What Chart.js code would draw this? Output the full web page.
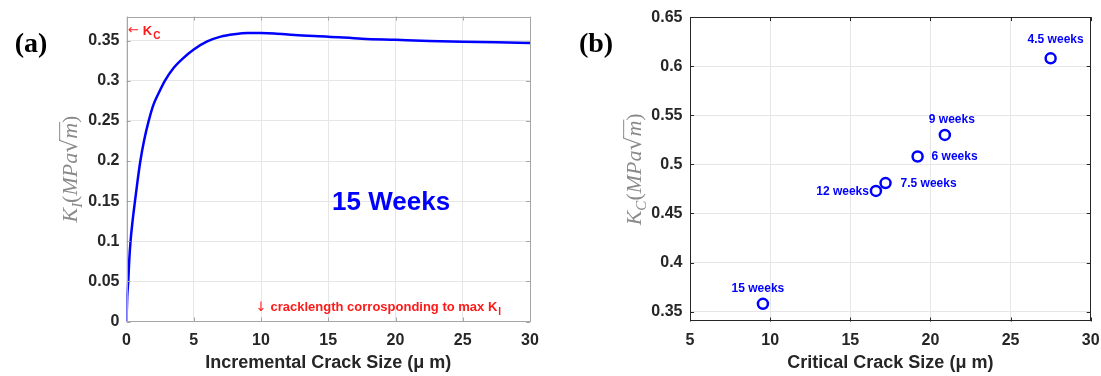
<!DOCTYPE html>
<html>
<head>
<meta charset="utf-8">
<script src="https://cdn.jsdelivr.net/npm/chart.js@4.4.1/dist/chart.umd.min.js"></script>
<style>
html, body { margin: 0; padding: 0; background: #fff; }
#wrap { position: relative; width: 1101px; height: 376px; overflow: hidden; }
.panel { position: absolute; top: 0; height: 376px; }
#pa { left: 0; width: 560px; }
#pb { left: 560px; width: 560px; }
</style>
</head>
<body>
<div id="wrap">
    <div class="panel" id="pa"><canvas id="chartA"></canvas></div>
    <div class="panel" id="pb"><canvas id="chartB"></canvas></div>
</div>
<script>
// (a) K_I against incremental crack size, 15 weeks
const crackSize = [0, 0.05, 0.13, 0.2, 0.3, 0.45, 0.63, 0.82, 1.03, 1.3, 1.65, 2.0, 2.4, 2.85, 3.5, 4.2, 5, 6, 7, 8, 9, 10, 11, 12.5, 15, 17.5, 20, 22.5, 25, 27.5, 30];
const kI = [0, 0.03, 0.05, 0.075, 0.1, 0.125, 0.15, 0.175, 0.2, 0.225, 0.25, 0.27, 0.285, 0.3, 0.316, 0.328, 0.339, 0.349, 0.355, 0.358, 0.3595, 0.3595, 0.359, 0.357, 0.355, 0.3525, 0.351, 0.3495, 0.3485, 0.348, 0.347];
const xTicksA = [0, 5, 10, 15, 20, 25, 30];
const yTicksA = [0, 0.05, 0.1, 0.15, 0.2, 0.25, 0.3, 0.35];

// (b) K_C against critical crack size
const weekLabels = ['4.5 weeks', '9 weeks', '6 weeks', '7.5 weeks', '12 weeks', '15 weeks'];
const critCrack = [27.5, 20.9, 19.2, 17.2, 16.6, 9.55];
const kC = [0.608, 0.530, 0.508, 0.481, 0.473, 0.358];
const xTicksB = [5, 10, 15, 20, 25, 30];
const yTicksB = [0.35, 0.4, 0.45, 0.5, 0.55, 0.6, 0.65];

// where each week label sits relative to its marker
const labelPlace = [
    { dx: 5, dy: -19, align: 'center' },
    { dx: 7, dy: -15, align: 'center' },
    { dx: 14, dy: 0, align: 'left' },
    { dx: 15, dy: 1, align: 'left' },
    { dx: -7, dy: 1, align: 'right' },
    { dx: -5, dy: -15, align: 'center' }
];

const BLUE = '#0000ff';
const RED = '#ff1a1a';
const DARK = '#262626';

function fmt(v) {
    return String(+v.toFixed(2));
}

function drawKLabel(ctx, cx, cy, sub, size, color) {
    const serif = '"Liberation Serif", "DejaVu Serif", serif';
    const parts = [
        { t: 'K', f: `italic ${size}px ${serif}` },
        { t: sub, f: `italic ${Math.round(size * 0.68)}px ${serif}`, dy: size * 0.22 },
        { t: '(', f: `${size}px ${serif}` },
        { t: 'MPa', f: `italic ${size}px ${serif}` },
        { t: '\u221A', f: `${size}px "DejaVu Sans", sans-serif` },
        { t: 'm', f: `italic ${size}px ${serif}`, bar: true },
        { t: ')', f: `${size}px ${serif}` }
    ];
    let total = 0;
    parts.forEach(p => { ctx.font = p.f; p.w = ctx.measureText(p.t).width; total += p.w; });
    ctx.save();
    ctx.translate(cx, cy);
    ctx.rotate(-Math.PI / 2);
    ctx.fillStyle = color;
    ctx.strokeStyle = color;
    ctx.textBaseline = 'alphabetic';
    ctx.textAlign = 'left';
    const base = size * 0.33;
    let x = -total / 2;
    parts.forEach(p => {
        ctx.font = p.f;
        ctx.fillText(p.t, x, base + (p.dy || 0));
        if (p.bar) {
            ctx.lineWidth = 1;
            ctx.beginPath();
            ctx.moveTo(x - 1, base - size * 0.8);
            ctx.lineTo(x + p.w + 1, base - size * 0.8);
            ctx.stroke();
        }
        x += p.w;
    });
    ctx.restore();
}

// arrow + bold text + subscript, starting at (x, y)
function drawNote(ctx, x, y, arrow, text, sub) {
    ctx.save();
    ctx.fillStyle = RED;
    ctx.textBaseline = 'middle';
    ctx.textAlign = 'left';
    ctx.font = '13px "DejaVu Sans", sans-serif';
    ctx.fillText(arrow, x, y);
    x += ctx.measureText(arrow).width + 4;
    ctx.font = 'bold 13px "Liberation Sans", Arial, sans-serif';
    ctx.fillText(text, x, y);
    x += ctx.measureText(text).width + 1;
    ctx.font = 'bold 10px "Liberation Sans", Arial, sans-serif';
    ctx.fillText(sub, x, y + 5);
    ctx.restore();
}

const deco = {
    id: 'deco',
    afterDatasetsDraw(chart, args, o) {
        const { ctx, chartArea: a } = chart;
        const xs = chart.scales.x, ys = chart.scales.y;
        ctx.save();
        // box and inward ticks
        ctx.strokeStyle = o.frame;
        ctx.lineWidth = 1;
        ctx.strokeRect(Math.round(a.left) + 0.5, Math.round(a.top) + 0.5, Math.round(a.right - a.left) - 1, Math.round(a.bottom - a.top) - 1);
        ctx.beginPath();
        xs.ticks.forEach(t => {
            const px = Math.round(xs.getPixelForValue(t.value)) + 0.5;
            ctx.moveTo(px, a.bottom); ctx.lineTo(px, a.bottom - 4);
            ctx.moveTo(px, a.top); ctx.lineTo(px, a.top + 4);
        });
        ys.ticks.forEach(t => {
            const py = Math.round(ys.getPixelForValue(t.value)) + 0.5;
            ctx.moveTo(a.left, py); ctx.lineTo(a.left + 4, py);
            ctx.moveTo(a.right, py); ctx.lineTo(a.right - 4, py);
        });
        ctx.stroke();
        ctx.restore();

        // panel letter
        ctx.save();
        ctx.fillStyle = '#000';
        ctx.font = 'bold 28px "Liberation Serif", "Times New Roman", serif';
        ctx.textAlign = 'center';
        ctx.textBaseline = 'middle';
        ctx.fillText(o.letter, o.letterX, 45);
        ctx.restore();

        drawKLabel(ctx, o.titleX, (a.top + a.bottom) / 2, o.sub, 22, '#8a8a8a');
        if (o.extra) o.extra(chart);
    }
};

function axisBase(ticksArr, min, max, fixed, pad) {
    return {
        type: 'linear',
        min: min,
        max: max,
        afterBuildTicks: s => { s.ticks = ticksArr.map(v => ({ value: v })); },
        afterFit: s => {
            if (s.isHorizontal()) s.height = fixed; else s.width = fixed;
        },
        grid: { color: '#e6e6e6', drawTicks: false },
        border: { display: false },
        ticks: {
            padding: pad,
            color: DARK,
            font: { family: '"Liberation Sans", Arial, sans-serif', size: 16, weight: 'bold' },
            callback: v => fmt(v)
        }
    };
}

function xTitle(text) {
    return {
        display: true,
        text: text,
        color: DARK,
        padding: { top: 0, bottom: 2 },
        font: { family: '"Liberation Sans", Arial, sans-serif', size: 18, weight: 'bold' }
    };
}

// ---- chart (a)
const xA = axisBase(xTicksA, 0, 30, 54.5, 9);
xA.title = xTitle('Incremental Crack Size (\u03BC m)');
const yA = axisBase(yTicksA, 0, 0.38, 126.5, 7);

new Chart(document.getElementById('chartA'), {
    type: 'line',
    data: {
        datasets: [{
            data: crackSize.map((x, i) => ({ x: x, y: kI[i] })),
            borderColor: BLUE,
            borderWidth: 2.5,
            pointRadius: 0,
            fill: false,
            cubicInterpolationMode: 'monotone'
        }]
    },
    options: {
        responsive: true,
        maintainAspectRatio: false,
        devicePixelRatio: 1,
        animation: false,
        layout: { padding: { left: 0, right: 30, top: 14, bottom: 0 } },
        scales: { x: xA, y: yA },
        plugins: {
            legend: { display: false },
            tooltip: { enabled: false },
            deco: {
                frame: '#a6a6a6',
                letter: '(a)',
                letterX: 31,
                titleX: 70,
                sub: 'I',
                extra: chart => {
                    const { ctx } = chart;
                    const xs = chart.scales.x, ys = chart.scales.y;
                    drawNote(ctx, xs.getPixelForValue(0.11), ys.getPixelForValue(0.362), '\u2190', 'K', 'C');
                    drawNote(ctx, xs.getPixelForValue(9.6), ys.getPixelForValue(0.0176), '\u2193', 'cracklength corrosponding to max K', 'I');
                    ctx.save();
                    ctx.fillStyle = BLUE;
                    ctx.font = 'bold 26px "Liberation Sans", Arial, sans-serif';
                    ctx.textAlign = 'center';
                    ctx.textBaseline = 'middle';
                    ctx.fillText('15 Weeks', xs.getPixelForValue(19.67), ys.getPixelForValue(0.148));
                    ctx.restore();
                }
            }
        }
    },
    plugins: [deco]
});

// ---- chart (b)
const xB = axisBase(xTicksB, 5, 30, 54.5, 9);
xB.title = xTitle('Critical Crack Size (\u03BC m)');
const yB = axisBase(yTicksB, 0.34, 0.65, 130, 7.5);

new Chart(document.getElementById('chartB'), {
    type: 'scatter',
    data: {
        datasets: [{
            data: critCrack.map((x, i) => ({ x: x, y: kC[i] })),
            borderColor: BLUE,
            backgroundColor: 'rgba(0,0,0,0)',
            borderWidth: 2.5,
            pointRadius: 5,
            pointHoverRadius: 5
        }]
    },
    options: {
        responsive: true,
        maintainAspectRatio: false,
        devicePixelRatio: 1,
        animation: false,
        layout: { padding: { left: 0, right: 29.3, top: 15.7, bottom: 0 } },
        scales: { x: xB, y: yB },
        plugins: {
            legend: { display: false },
            tooltip: { enabled: false },
            deco: {
                frame: DARK,
                letter: '(b)',
                letterX: 36,
                titleX: 74,
                sub: 'C',
                extra: chart => {
                    const { ctx } = chart;
                    const pts = chart.getDatasetMeta(0).data;
                    ctx.save();
                    ctx.fillStyle = BLUE;
                    ctx.font = 'bold 12px "Liberation Sans", Arial, sans-serif';
                    ctx.textBaseline = 'middle';
                    pts.forEach((p, i) => {
                        const lp = labelPlace[i];
                        ctx.textAlign = lp.align;
                        ctx.fillText(weekLabels[i], p.x + lp.dx, p.y + lp.dy);
                    });
                    ctx.restore();
                }
            }
        }
    },
    plugins: [deco]
});
</script>
</body>
</html>
